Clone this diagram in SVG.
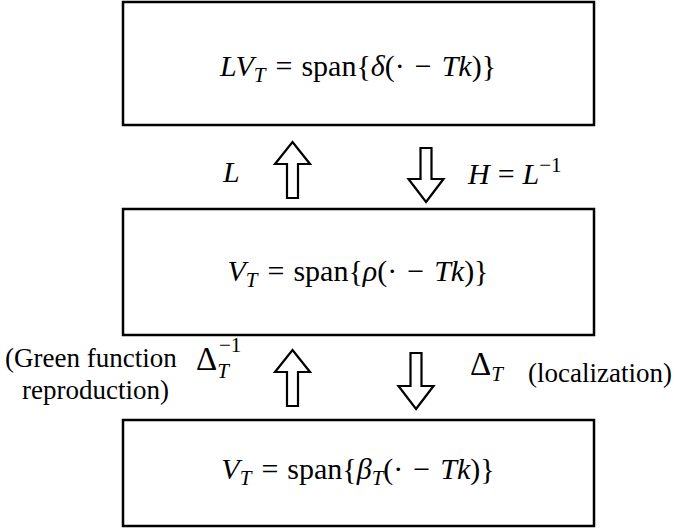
<svg xmlns="http://www.w3.org/2000/svg" width="676" height="531" viewBox="0 0 676 531">
<style>
.box{fill:#fff;stroke:#000;stroke-width:2.5}
.arr{fill:#fff;stroke:#000;stroke-width:2.2;stroke-linejoin:miter}
text{font-family:"Liberation Serif","Times New Roman",serif;fill:#000}
.m{font-size:30px}
.lab{font-size:27px}
.i{font-style:italic}
.sub{font-size:21px}
.D{font-size:33px}
</style>
<rect width="676" height="531" fill="#fff"/>
<g id="node-top">
<rect class="box" x="123" y="2" width="471" height="123"/>
<text class="m" x="358" y="76" text-anchor="middle"><tspan class="i">LV</tspan><tspan class="i sub" dy="6">T</tspan><tspan dy="-6" dx="10">=</tspan><tspan dx="9">span{</tspan><tspan class="i">δ</tspan><tspan>(·</tspan><tspan dx="10">−</tspan><tspan class="i" dx="10">Tk</tspan><tspan>)}</tspan></text>
</g>
<g id="node-middle">
<rect class="box" x="123" y="209" width="471" height="126"/>
<text class="m" x="358" y="281" text-anchor="middle"><tspan class="i">V</tspan><tspan class="i sub" dy="6">T</tspan><tspan dy="-6" dx="10">=</tspan><tspan dx="9">span{</tspan><tspan class="i">ρ</tspan><tspan>(·</tspan><tspan dx="10">−</tspan><tspan class="i" dx="10">Tk</tspan><tspan>)}</tspan></text>
</g>
<g id="node-bottom">
<rect class="box" x="123" y="420" width="471" height="106"/>
<text class="m" x="358" y="479" text-anchor="middle"><tspan class="i">V</tspan><tspan class="i sub" dy="6">T</tspan><tspan dy="-6" dx="10">=</tspan><tspan dx="9">span{</tspan><tspan class="i">β</tspan><tspan class="i sub" dy="6">T</tspan><tspan dy="-6">(·</tspan><tspan dx="10">−</tspan><tspan class="i" dx="10">Tk</tspan><tspan>)}</tspan></text>
</g>
<g id="connectors">
<path class="arr" d="M292.5,142 L310,164 L298,164 L298,198 L287,198 L287,164 L275,164 Z"/>
<path class="arr" d="M426,202 L443.5,179 L431.5,179 L431.5,148 L420.5,148 L420.5,179 L408.5,179 Z"/>
<path class="arr" d="M292.5,350 L310,372 L298,372 L298,406 L287,406 L287,372 L275,372 Z"/>
<path class="arr" d="M416,409 L433.5,386 L421.5,386 L421.5,353 L410.5,353 L410.5,386 L398.5,386 Z"/>
<text class="m i" x="223" y="182">L</text>
<text class="m" x="468" y="184"><tspan class="i">H</tspan><tspan dx="8">=</tspan><tspan class="i" dx="8">L</tspan><tspan class="sub" dy="-12">−1</tspan></text>
<text class="m" x="196" y="370"><tspan class="D">Δ</tspan><tspan class="i sub" dy="8">T</tspan></text>
<text class="sub" x="219" y="352">−1</text>
<text class="m" x="470" y="375"><tspan class="D">Δ</tspan><tspan class="i sub" dy="6">T</tspan></text>
<text class="lab" x="5" y="367">(Green function</text>
<text class="lab" x="22" y="399">reproduction)</text>
<text class="lab" x="528" y="382">(localization)</text>
</g>
</svg>
